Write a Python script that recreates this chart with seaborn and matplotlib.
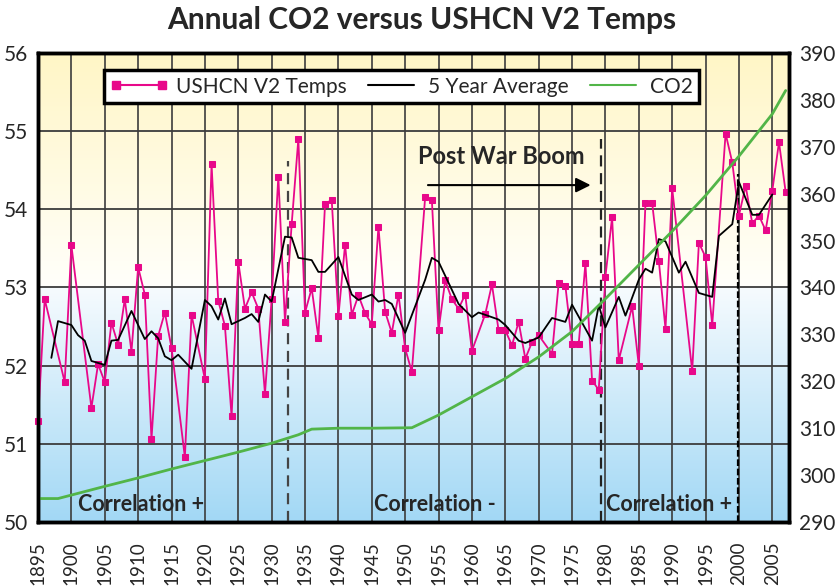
import numpy as np
import seaborn as sns
import matplotlib.pyplot as plt
from matplotlib.lines import Line2D
from matplotlib.colors import to_rgb

# ---------- DATA
temp_years = [1895, 1896, 1899, 1900, 1903, 1904, 1905, 1906, 1907, 1908,
              1909, 1910, 1911, 1912, 1913, 1914, 1915, 1917, 1918, 1920,
              1921, 1922, 1923, 1924, 1925, 1926, 1927, 1928, 1929, 1930,
              1931, 1932, 1933, 1934, 1935, 1936, 1937, 1938, 1939, 1940,
              1941, 1942, 1943, 1944, 1945, 1946, 1947, 1948, 1949, 1950,
              1951, 1953, 1954, 1955, 1956, 1957, 1958, 1959, 1960, 1962,
              1963, 1964, 1965, 1966, 1967, 1968, 1969, 1970, 1972, 1973,
              1974, 1975, 1976, 1977, 1978, 1979, 1980, 1981, 1982, 1984,
              1985, 1986, 1987, 1988, 1989, 1990, 1993, 1994, 1995, 1996,
              1998, 1999, 2000, 2001, 2002, 2003, 2004, 2005, 2006, 2007]
temp_vals = [51.29, 52.85, 51.79, 53.54, 51.46, 52.02, 51.79, 52.55, 52.27, 52.85,
             52.18, 53.26, 52.91, 51.06, 52.38, 52.68, 52.23, 50.83, 52.65, 51.83,
             54.58, 52.83, 52.51, 51.35, 53.33, 52.73, 52.94, 52.73, 51.64, 52.85,
             54.42, 52.56, 53.81, 54.90, 52.68, 52.99, 52.36, 54.07, 54.12, 52.63,
             53.55, 52.65, 52.90, 52.67, 52.53, 53.78, 52.69, 52.42, 52.91, 52.22,
             51.92, 54.16, 54.12, 52.45, 53.09, 52.85, 52.73, 52.91, 52.19, 52.66,
             53.04, 52.45, 52.45, 52.26, 52.56, 52.09, 52.30, 52.39, 52.15, 53.06,
             53.02, 52.28, 52.28, 53.31, 51.81, 51.69, 53.14, 53.90, 52.07, 52.76,
             52.00, 54.08, 54.08, 53.34, 52.47, 54.27, 51.93, 53.57, 53.39, 52.52,
             54.97, 54.60, 53.92, 54.30, 53.82, 53.92, 53.73, 54.24, 54.86, 54.22]

avg_years = [1897, 1898, 1900, 1901, 1902, 1903, 1905, 1906, 1907, 1909,
             1911, 1912, 1913, 1914, 1915, 1916, 1918, 1920, 1921, 1922,
             1923, 1924, 1926, 1927, 1928, 1929, 1930, 1932, 1933, 1934,
             1936, 1937, 1938, 1940, 1942, 1943, 1945, 1946, 1947, 1948,
             1950, 1953, 1954, 1955, 1958, 1960, 1961, 1964, 1965, 1967,
             1968, 1970, 1972, 1974, 1975, 1978, 1979, 1980, 1982, 1983,
             1985, 1986, 1987, 1988, 1989, 1991, 1992, 1994, 1996, 1997,
             1999, 2000, 2002, 2003, 2005]
avg_vals = [52.10, 52.57, 52.52, 52.39, 52.32, 52.06, 52.01, 52.32, 52.33, 52.70,
            52.34, 52.44, 52.35, 52.12, 52.07, 52.14, 51.96, 52.84, 52.76, 52.59,
            52.86, 52.53, 52.61, 52.66, 52.56, 52.91, 52.82, 53.65, 53.64, 53.38,
            53.35, 53.20, 53.20, 53.39, 52.91, 52.84, 52.91, 52.82, 52.84, 52.79,
            52.42, 53.10, 53.38, 53.33, 52.79, 52.62, 52.68, 52.59, 52.52, 52.32,
            52.29, 52.36, 52.61, 52.56, 52.78, 52.32, 52.77, 52.49, 52.88, 52.64,
            53.10, 53.24, 53.19, 53.62, 53.59, 53.19, 53.33, 52.93, 52.88, 53.66,
            53.81, 54.35, 53.93, 53.93, 54.19]

co2_years = [1895, 1898, 1905, 1910, 1915, 1920, 1925, 1930, 1934, 1936,
             1940, 1945, 1951, 1955, 1960, 1965, 1970, 1975, 1980, 1985,
             1990, 1995, 2000, 2005, 2007]
co2_vals = [295.0, 295.0, 297.6, 299.4, 301.3, 303.1, 304.9, 306.8, 308.6, 309.8,
            310.0, 310.0, 310.1, 312.8, 316.7, 320.6, 325.2, 330.6, 337.6, 344.8,
            352.0, 359.6, 368.0, 377.0, 382.0]

# period markers and annotations
split_years = [1932.4, 1979.3, 1999.8]
split_tops = [54.62, 54.90, 54.45]
corr_labels = ["Correlation +", "Correlation -", "Correlation +"]
corr_x = [1910.5, 1954.5, 1989.6]
xtick_years = list(range(1895, 2006, 5))

PINK = "#E8088A"
GREEN = "#52B548"

# ---------- FIGURE
sns.set_theme(style="white")
plt.rcParams["font.family"] = ["Lato", "DejaVu Sans"]

fig = plt.figure(figsize=(8.38, 5.87), dpi=100)
ax = fig.add_axes([38 / 838, 1 - 522 / 587, (789 - 38) / 838, (522 - 53) / 587])

# yellow -> white -> blue background
n = 300
t = np.linspace(0, 1, n)
blue, white_lo = np.array(to_rgb("#A2D8F5")), np.array(to_rgb("#F6FBFE"))
white_hi, yellow = np.array(to_rgb("#FFFFFB")), np.array(to_rgb("#FFF6C6"))
grad = np.zeros((n, 1, 3))
for i, v in enumerate(t):
    if v < 0.5:
        f = v / 0.5
        grad[i, 0] = blue + (white_lo - blue) * f
    else:
        f = (v - 0.5) / 0.5
        grad[i, 0] = white_hi + (yellow - white_hi) * f
ax.imshow(grad, extent=(0, 1, 0, 1), transform=ax.transAxes, origin="lower",
          aspect="auto", zorder=0)

# grid
for yv in range(51, 56):
    ax.axhline(yv, color="#3c3c3c", lw=1.3, zorder=1)
for xv in xtick_years[1:]:
    ax.axvline(xv, color="#3c3c3c", lw=1.2, zorder=1)

# series
sns.lineplot(x=temp_years, y=temp_vals, ax=ax, color=PINK, lw=1.3,
             marker="s", markersize=5, markeredgecolor=PINK, zorder=4,
             clip_on=False)
sns.lineplot(x=avg_years, y=avg_vals, ax=ax, color="black", lw=1.3, zorder=5)

# dashed period lines
dash_styles = [(5, 3), (5, 3), (3, 1.2)]
dash_colors = ["#444444", "#222222", "black"]
for xv, top, ds, dc in zip(split_years, split_tops, dash_styles, dash_colors):
    ax.plot([xv, xv], [50, top], color=dc, lw=1.6, dashes=ds, zorder=3)

ax.set_xlim(1895, 2007.5)
ax.set_ylim(50, 56)
ax.set_xticks(xtick_years)
ax.set_xticklabels([str(y) for y in xtick_years], rotation=90, fontsize=13.5)
ax.set_yticks(range(50, 57))
ax.set_yticklabels([str(v) for v in range(50, 57)], fontsize=15)
ax.tick_params(axis="both", length=0)
ax.tick_params(axis="x", pad=14)
ax.tick_params(axis="y", pad=7)

# CO2 on right axis
ax2 = ax.twinx()
sns.lineplot(x=co2_years, y=co2_vals, ax=ax2, color=GREEN, lw=2)
ax2.set_ylim(290, 390)
ax2.set_yticks(range(290, 391, 10))
ax2.set_yticklabels([str(v) for v in range(290, 391, 10)], fontsize=15)
ax2.tick_params(axis="y", length=0, pad=7)
ax2.set_xlim(1895, 2007.5)

for a in (ax, ax2):
    a.set_xlabel("")
    a.set_ylabel("")
    for s in a.spines.values():
        s.set_color("black")
        s.set_linewidth(2.5)

# text annotations
ax.text(1964.4, 54.67, "Post War Boom", fontsize=17, fontweight="bold",
        ha="center", va="center", zorder=6)
ax.annotate("", xy=(1978.2, 54.31), xytext=(1953.0, 54.31),
            arrowprops=dict(arrowstyle="-|>", color="black", lw=1.5,
                            mutation_scale=22), zorder=6)
for lab, xv in zip(corr_labels, corr_x):
    ax.text(xv, 50.22, lab, fontsize=15.5, fontweight="bold",
            ha="center", va="center", zorder=6)

# legend
handles = [
    Line2D([], [], color=PINK, lw=1.5, marker="s", markersize=6,
           markeredgecolor=PINK, markevery=[0]),
    Line2D([], [], color="black", lw=1.5),
    Line2D([], [], color=GREEN, lw=1.5),
]
leg = ax2.legend(handles, ["USHCN V2 Temps", "5 Year Average", "CO2"],
                 loc="upper center", bbox_to_anchor=(0.484, 0.985), ncol=3,
                 fontsize=15, frameon=True, fancybox=False, numpoints=2,
                 handlelength=2.8, handletextpad=0.4, columnspacing=0.7,
                 borderpad=0.3)
leg.get_frame().set_edgecolor("black")
leg.get_frame().set_linewidth(2.5)
leg.get_frame().set_facecolor("white")
leg.get_frame().set_alpha(1)
leg.set_zorder(10)

fig.text(0.503, 0.966, "Annual CO2 versus USHCN V2 Temps", fontsize=21.5,
         fontweight="bold", ha="center", va="center")

fig.savefig("out.png", dpi=100)
